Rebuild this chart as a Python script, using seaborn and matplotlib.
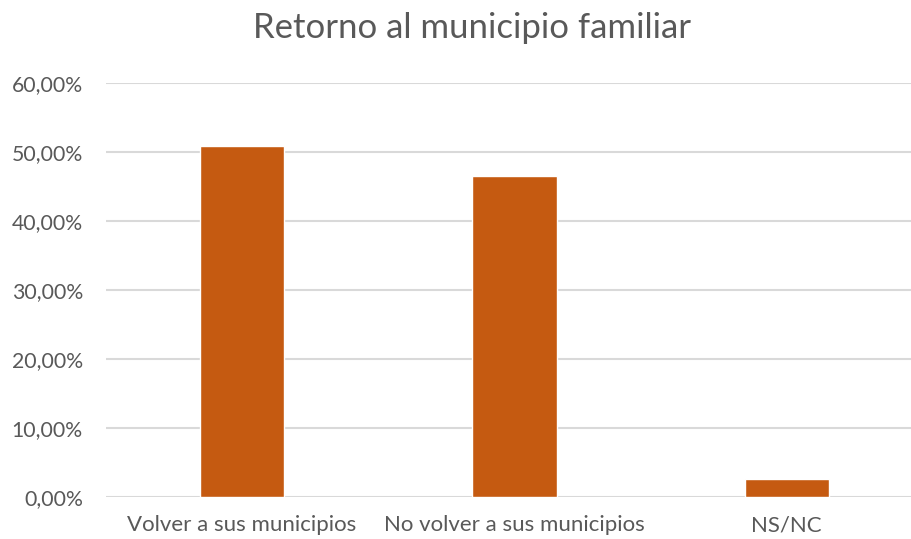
import seaborn as sns
from matplotlib import pyplot as plt
from matplotlib.ticker import FuncFormatter
import pandas as pd

# data
categories = ["Volver a sus municipios", "No volver a sus municipios", "NS/NC"]
shares = [0.509, 0.465, 0.026]
y_ticks = [0.0, 0.1, 0.2, 0.3, 0.4, 0.5, 0.6]

df = pd.DataFrame({"categoria": categories, "porcentaje": shares})

sns.set_theme(style="white")
plt.rcParams['font.family'] = ['Lato', 'DejaVu Sans']

text_color = "#595959"
grid_color = "#D9D9D9"
bar_color = "#C55A11"

fig = plt.figure(figsize=(9.12, 5.39), dpi=100)
ax = fig.add_axes([0.116, 0.0774, 0.896, 0.769])

sns.barplot(data=df, x="categoria", y="porcentaje", color=bar_color,
            width=0.31, saturation=1, ax=ax, zorder=3)

ax.set_ylim(0, 0.6)
ax.set_yticks(y_ticks)
ax.yaxis.set_major_formatter(FuncFormatter(lambda v, _: f"{v * 100:.2f}%".replace(".", ",")))
ax.grid(axis="y", color=grid_color, linewidth=1.5, zorder=0)
ax.set_axisbelow(True)
for s in ax.spines.values():
    s.set_visible(False)

ax.tick_params(axis="y", length=0, labelsize=15.3, colors=text_color, pad=16.5)
ax.tick_params(axis="x", length=0, labelsize=16, colors=text_color, pad=13)
ax.set_xlabel("")
ax.set_ylabel("")

fig.text(0.518, 0.948, "Retorno al municipio familiar", ha="center", va="center",
         fontsize=25, color=text_color)

fig.savefig("out.png", dpi=100)
